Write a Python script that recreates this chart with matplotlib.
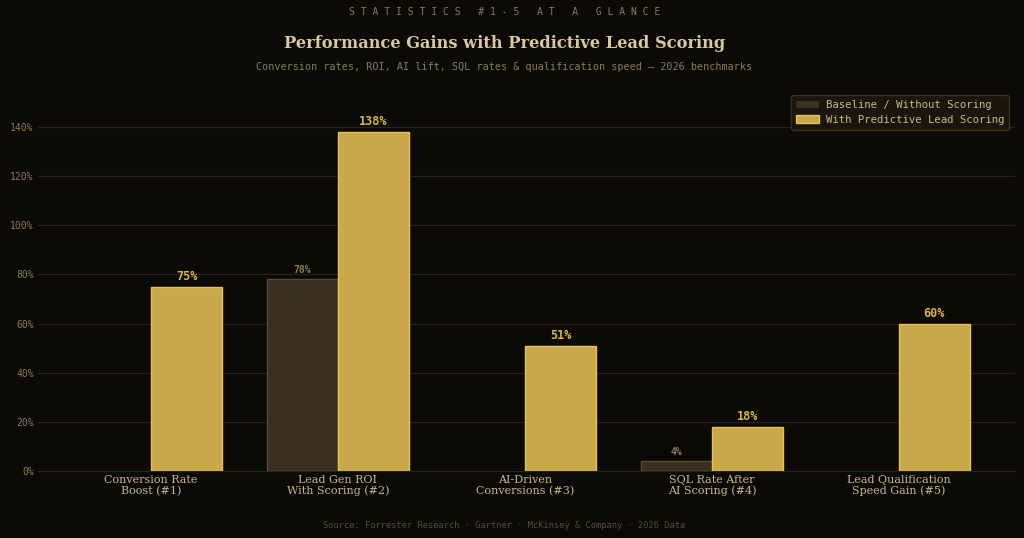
import matplotlib
matplotlib.use("Agg")
import matplotlib.pyplot as plt
import numpy as np

categories = ["Conversion Rate\nBoost (#1)", "Lead Gen ROI\nWith Scoring (#2)",
              "AI-Driven\nConversions (#3)", "SQL Rate After\nAI Scoring (#4)",
              "Lead Qualification\nSpeed Gain (#5)"]
baseline = [0, 78, 0, 4, 0]
scoring = [75, 138, 51, 18, 60]
yticks = [0, 20, 40, 60, 80, 100, 120, 140]

BG = "#0c0a07"
GOLD = "#c9a84c"
GOLD_EDGE = "#e3c25e"
BASE = "#3a3020"
BASE_EDGE = "#5a4a32"

fig = plt.figure(figsize=(10.24, 5.38), dpi=100, facecolor=BG)
ax = fig.add_axes([0.037, 0.1245, 0.954, 0.6935], facecolor=BG)

x = np.arange(len(categories))
w = 0.38
b1 = ax.bar(x - w/2, baseline, w, color=BASE, edgecolor=BASE_EDGE, linewidth=1,
            label="Baseline / Without Scoring", zorder=3)
b2 = ax.bar(x + w/2, scoring, w, color=GOLD, edgecolor=GOLD_EDGE, linewidth=1,
            label="With Predictive Lead Scoring", zorder=3)
for p in list(b1) + list(b2):
    if p.get_height() == 0:
        p.set_linewidth(0)

for xi, v in zip(x, baseline):
    if v > 0:
        ax.annotate(f"{v}%", (xi - w/2, v), xytext=(0, 3), textcoords="offset points",
                    ha="center", va="bottom", color="#8a7a5a", fontsize=7,
                    fontweight="bold", family="DejaVu Sans Mono")
for xi, v in zip(x, scoring):
    ax.annotate(f"{v}%", (xi + w/2, v), xytext=(0, 2.5), textcoords="offset points",
                ha="center", va="bottom", color="#d8b550", fontsize=8.5,
                fontweight="bold", family="DejaVu Sans Mono")

ax.set_xlim(-0.605, 4.62)
ax.set_ylim(0, 151.8)
ax.set_yticks(yticks)
ax.set_yticklabels([f"{t}%" for t in yticks], family="DejaVu Sans Mono",
                   fontsize=7, color="#8a7a5a")
ax.set_xticks(x)
ax.set_xticklabels(categories, family="DejaVu Serif", fontsize=8, color="#c8b890",
                   linespacing=1.05)
ax.tick_params(axis="both", length=0, pad=3)
ax.grid(axis="y", color="#2a2216", linewidth=0.8, zorder=0)
for s in ["top", "right", "left"]:
    ax.spines[s].set_visible(False)
ax.spines["bottom"].set_color("#2a2216")

leg = ax.legend(loc="upper right", bbox_to_anchor=(1.0, 1.021), frameon=True,
                prop={"family": "DejaVu Sans Mono", "size": 7.7}, fancybox=True,
                handlelength=2.1, handleheight=0.75, borderpad=0.45, labelspacing=0.45,
                handletextpad=0.7)
leg.get_frame().set_facecolor("#1c150c")
leg.get_frame().set_edgecolor("#3a3020")
leg.get_frame().set_alpha(1)
for t in leg.get_texts():
    t.set_color("#c8b890")

cx = 0.4925
fig.text(cx, 0.977, "S T A T I S T I C S   # 1 - 5   A T   A   G L A N C E",
         ha="center", va="center", family="DejaVu Sans Mono", fontsize=7,
         color="#8a7a5a")
fig.text(cx, 0.92, "Performance Gains with Predictive Lead Scoring", ha="center",
         va="center", family="DejaVu Serif", fontweight="bold", fontsize=11.7,
         color="#d8c9a0")
fig.text(cx, 0.875, "Conversion rates, ROI, AI lift, SQL rates & qualification speed \u2014 2026 benchmarks",
         ha="center", va="center", family="DejaVu Sans Mono", fontsize=7.3,
         color="#8a7a5a")
fig.text(cx, 0.024, "Source: Forrester Research \u00b7 Gartner \u00b7 McKinsey & Company \u00b7 2026 Data",
         ha="center", va="center", family="DejaVu Sans Mono", fontsize=6.2,
         color="#5a4a35")

fig.savefig("out.png", dpi=100, facecolor=BG)
